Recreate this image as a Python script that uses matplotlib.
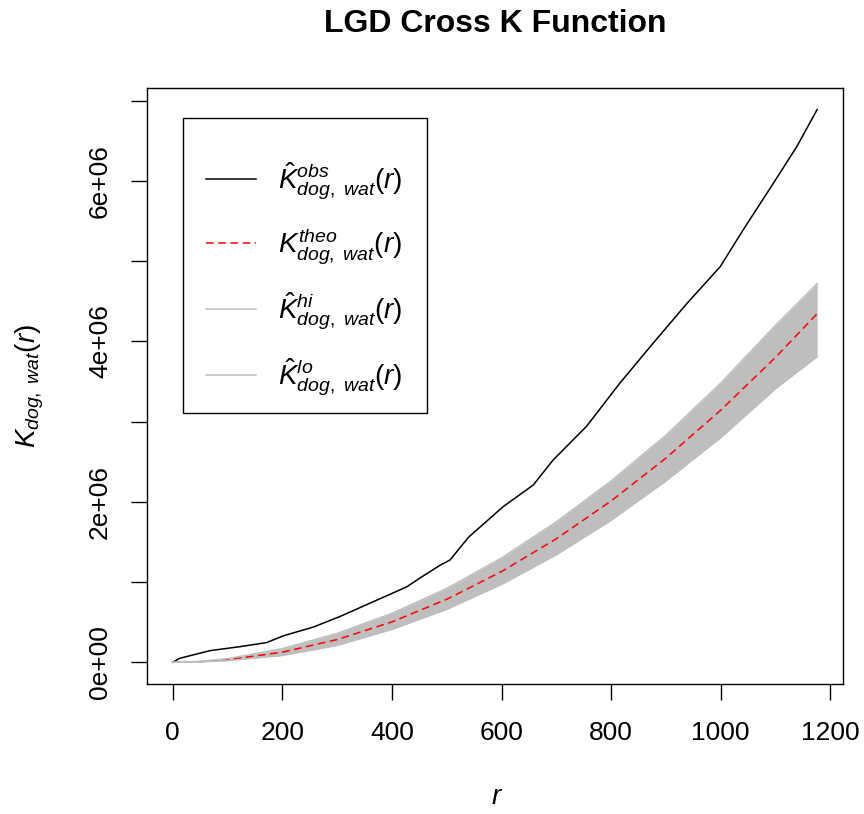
import numpy as np
import matplotlib
matplotlib.use('Agg')
import matplotlib.pyplot as plt
from matplotlib.patches import Rectangle

plt.rcParams['font.family'] = ['Liberation Sans', 'DejaVu Sans']
plt.rcParams['mathtext.fontset'] = 'custom'
plt.rcParams['mathtext.rm'] = 'Liberation Sans'
plt.rcParams['mathtext.it'] = 'Liberation Sans:italic'
plt.rcParams['mathtext.bf'] = 'Liberation Sans:bold'

r_obs = [0, 13, 68, 123, 171, 202, 257, 305, 366, 427, 451, 488, 506, 540, 603,
         658, 694, 755, 816, 877, 938, 999, 1041, 1096, 1139, 1176]
k_obs = [0, 0.05, 0.145, 0.195, 0.245, 0.33, 0.44, 0.57, 0.755, 0.94, 1.05, 1.21, 1.275,
         1.56, 1.94, 2.21, 2.52, 2.94, 3.48, 3.98, 4.47, 4.93, 5.39, 5.97, 6.43, 6.89]

# theoretical value and simulation envelope (millions)
r_env = [0, 50, 100, 200, 300, 400, 500, 600, 700, 800, 900, 1000, 1100, 1176]
k_theo = [0, 0.008, 0.031, 0.126, 0.283, 0.503, 0.785, 1.131, 1.539, 2.011, 2.545, 3.142, 3.801, 4.345]
k_hi = [0, 0.011, 0.045, 0.17, 0.36, 0.61, 0.92, 1.30, 1.75, 2.26, 2.83, 3.48, 4.20, 4.72]
k_lo = [0, 0.005, 0.020, 0.085, 0.21, 0.41, 0.66, 0.97, 1.34, 1.77, 2.26, 2.80, 3.41, 3.81]

y_ticks = [0, 1e6, 2e6, 3e6, 4e6, 5e6, 6e6, 7e6]
y_labels = ['0e+00', '', '2e+06', '', '4e+06', '', '6e+06', '']

r_obs = np.array(r_obs)
r_env = np.array(r_env)
k_obs = np.array(k_obs) * 1e6
k_theo = np.array(k_theo) * 1e6
k_hi = np.array(k_hi) * 1e6
k_lo = np.array(k_lo) * 1e6

fig = plt.figure(figsize=(8.64, 8.14), dpi=100)
ax = fig.add_axes([147.3/864, 1-683.7/814, 696/864, 596/814])

grey = '#BEBEBE'
ax.fill_between(r_env, k_lo, k_hi, color=grey, lw=0)
l_obs, = ax.plot(r_obs, k_obs, color='black', lw=1.1)
l_theo, = ax.plot(r_env, k_theo, color='red', lw=1.1, ls=(0, (5, 3)))
l_hi, = ax.plot(r_env, k_hi, color=grey, lw=1.1)
l_lo, = ax.plot(r_env, k_lo, color=grey, lw=1.1)

ax.set_xlim(-46.4, 1223.7)
ax.set_ylim(-0.267e6, 7.162e6)
ax.set_xticks([0, 200, 400, 600, 800, 1000, 1200])
ax.set_yticks(y_ticks)
ax.set_yticklabels(y_labels)
ax.tick_params(length=11.5, width=1, labelsize=19, color='black')
ax.tick_params(axis='x', pad=15.5)
ax.tick_params(axis='y', pad=14)
for t in ax.get_yticklabels():
    t.set_rotation(90)
    t.set_va('center')
for s in ax.spines.values():
    s.set_linewidth(1)
    s.set_color('black')

fig.text(495/864, 1-23.5/814, 'LGD Cross K Function', ha='center', va='center',
         fontsize=23, fontweight='bold')
ax.set_xlabel('$r$', fontsize=20, va='center')
ax.xaxis.set_label_coords(0.5025, -0.19)
ax.set_ylabel('$K_{dog,\\ wat}(r)$', fontsize=20, va='center', ha='center')
ax.yaxis.set_label_coords(-0.1685, 0.5)

# legend box drawn like R's, entries placed by matplotlib's legend
ax.add_patch(Rectangle((0.0513, 0.4542), 0.3506, 0.495, transform=ax.transAxes,
                       fill=True, facecolor='white', edgecolor='black', lw=1, zorder=4))
labels = ['$\\hat{K}^{obs}_{dog,\\ wat}(r)$', '$K^{theo}_{dog,\\ wat}(r)$',
          '$\\hat{K}^{hi}_{dog,\\ wat}(r)$', '$\\hat{K}^{lo}_{dog,\\ wat}(r)$']
leg = ax.legend([l_obs, l_theo, l_hi, l_lo], labels, loc='center left',
                bbox_to_anchor=(0.0843, 0.679), fontsize=20, frameon=False,
                borderaxespad=0, borderpad=0,
                handlelength=1.8, handletextpad=0.8, labelspacing=0.87)
leg.set_zorder(5)

fig.savefig('out.png', dpi=100)
